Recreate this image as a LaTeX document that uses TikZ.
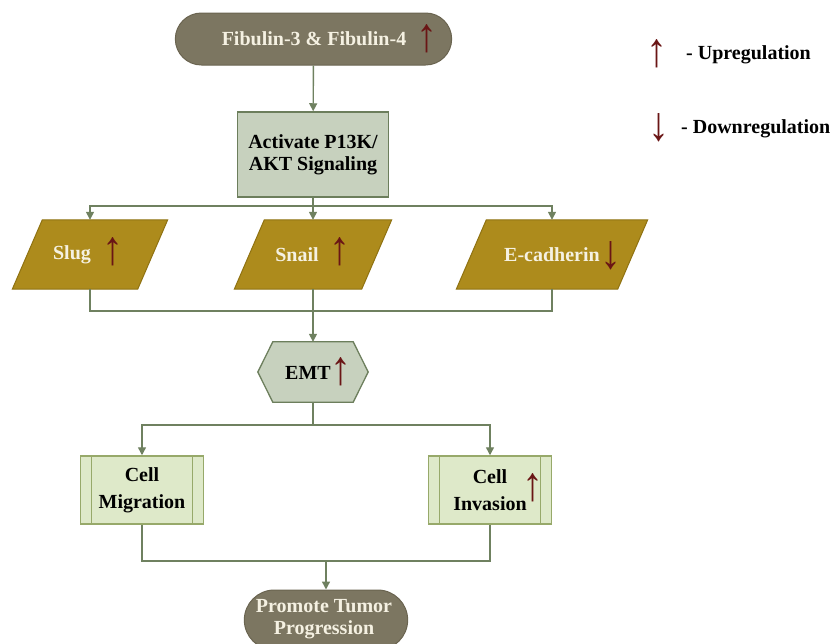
\documentclass[tikz,border=0pt]{standalone}
\usepackage{fontspec}
\setmainfont{Liberation Serif}
\newfontfamily\arrowfont{Liberation Serif}
\usetikzlibrary{arrows.meta,shapes.misc,backgrounds}
\definecolor{pillfill}{HTML}{7C7661}
\definecolor{pillline}{HTML}{6A6450}
\definecolor{boxfill}{HTML}{C7D1BE}
\definecolor{boxline}{HTML}{6C7E5C}
\definecolor{parafill}{HTML}{AD8B1C}
\definecolor{paraline}{HTML}{8F7212}
\definecolor{cellfill}{HTML}{DEE9C9}
\definecolor{cellline}{HTML}{97A96A}
\definecolor{connc}{HTML}{6F8160}
\definecolor{arrred}{HTML}{6A1515}
\definecolor{lighttext}{HTML}{F5F1E2}
\newcommand\uparr{\scalebox{2.1}[2.4]{\arrowfont\fontsize{20}{20}\selectfont ↑}}
\newcommand\downarr{\scalebox{2.1}[2.4]{\arrowfont\fontsize{20}{20}\selectfont ↓}}
\tikzset{
  txt/.style={font=\bfseries\fontsize{20}{22}\selectfont, align=center, inner sep=0pt},
  pill/.style={shape=rounded rectangle, fill=pillfill, draw=pillline, line width=1pt, minimum height=52pt},
  actbox/.style={draw=boxline, fill=boxfill, line width=1.5pt, minimum width=151pt, minimum height=85pt, inner sep=0pt},
  paraslot/.style={draw=none, minimum height=69pt, inner sep=0pt},
  parashape/.style={fill=parafill, draw=paraline, line width=1pt},
  hexslot/.style={draw=none, minimum width=110pt, minimum height=60pt, inner sep=0pt},
  hexshape/.style={fill=boxfill, draw=boxline, line width=1.3pt},
  cellbox/.style={draw=cellline, fill=cellfill, line width=1.5pt, minimum width=123pt, minimum height=68pt, inner sep=0pt},
  conn/.style={draw=connc, line width=1.4pt},
  arr/.style={conn, -{Triangle[length=8pt,width=8pt]}},
  regmark/.style={inner sep=0pt, text=arrred},
}
\begin{document}
\begin{tikzpicture}[x=1pt,y=-1pt]
\useasboundingbox (0,0) rectangle (830,643);
% top pill
\node[pill, minimum width=283pt] (fib) at (313.5,39) {};
\node[txt, text=lighttext] (fibtxt) at (314,39) {Fibulin-3 \& Fibulin-4};
\node[regmark] (fibarr) at (427,39) {\uparr};
% legend
\node[regmark] (legup) at (657,54) {\uparr};
\node[txt, anchor=west] (legupt) at (686,55) {- Upregulation};
\node[regmark] (legdn) at (659,128) {\downarr};
\node[txt, anchor=west] (legdnt) at (681,129) {- Downregulation};
% activate box
\node[actbox, txt] (act) at (313,154.5) {Activate P13K/\\AKT Signaling};
% parallelograms
\node[paraslot, minimum width=155pt] (slug) at (90,254.5) {};
\node[paraslot, minimum width=157pt] (snail) at (313,254.5) {};
\node[paraslot, minimum width=191pt] (ecad) at (552,254.5) {};
\begin{scope}[on background layer]
\foreach \n in {slug,snail,ecad}{
  \path[parashape] (\n.south west) -- ([xshift=-30pt]\n.south east) -- (\n.north east) -- ([xshift=30pt]\n.north west) -- cycle;
}
\end{scope}
\node[txt, text=lighttext] (slugtxt) at (72,255) {Slug};
\node[regmark] (slugarr) at (113,252) {\uparr};
\node[txt, text=lighttext] (snailtxt) at (297,255) {Snail};
\node[regmark] (snailarr) at (340,252) {\uparr};
\node[txt, text=lighttext] (ecadtxt) at (552,255) {E-cadherin};
\node[regmark] (ecadarr) at (611,256) {\downarr};
% EMT hexagon
\node[hexslot] (emt) at (313,372) {};
\begin{scope}[on background layer]
\path[hexshape] (emt.west) -- ([xshift=15pt]emt.north west) -- ([xshift=-15pt]emt.north east) -- (emt.east) -- ([xshift=-15pt]emt.south east) -- ([xshift=15pt]emt.south west) -- cycle;
\end{scope}
\node[txt] (emttxt) at (308,373) {EMT};
\node[regmark] (emtarr) at (341,372) {\uparr};
% cell boxes
\node[cellbox, txt, font=\bfseries\fontsize{20}{27}\selectfont] (mig) at (142,490) {Cell\\Migration};
\node[cellbox, txt, font=\bfseries\fontsize{20}{27}\selectfont] (inv) at (490,490) {Cell\\Invasion};
\node[regmark] (invarr) at (533,488) {\uparr};
\foreach \n in {mig,inv}{
  \draw[draw=cellline, line width=1.2pt] ([xshift=12pt]\n.north west) -- ([xshift=12pt]\n.south west);
  \draw[draw=cellline, line width=1.2pt] ([xshift=-12pt]\n.north east) -- ([xshift=-12pt]\n.south east);
}
% bottom pill
\node[pill, minimum width=170pt, minimum height=60pt] (tumor) at (326,620) {};
\node[txt, text=lighttext] (tumortxt) at (324,619) {Promote Tumor\\Progression};
% connectors
\coordinate (bus1) at (313,206);
\coordinate (bus2) at (313,311);
\coordinate (bus3) at (313,425);
\coordinate (bus4) at (326,561);
\draw[arr] (fib) -- (act);
\draw[conn] (act) -- (bus1);
\draw[arr] (bus1) -| (slug);
\draw[arr] (bus1) -- (snail);
\draw[arr] (bus1) -| (ecad);
\draw[conn] (slug) |- (bus2);
\draw[conn] (ecad) |- (bus2);
\draw[conn] (snail) -- (bus2);
\draw[arr] (bus2) -- (emt);
\draw[conn] (emt) -- (bus3);
\draw[arr] (bus3) -| (mig);
\draw[arr] (bus3) -| (inv);
\draw[conn] (mig) |- (bus4);
\draw[conn] (inv) |- (bus4);
\draw[arr] (bus4) -- (tumor);
\end{tikzpicture}
\end{document}
